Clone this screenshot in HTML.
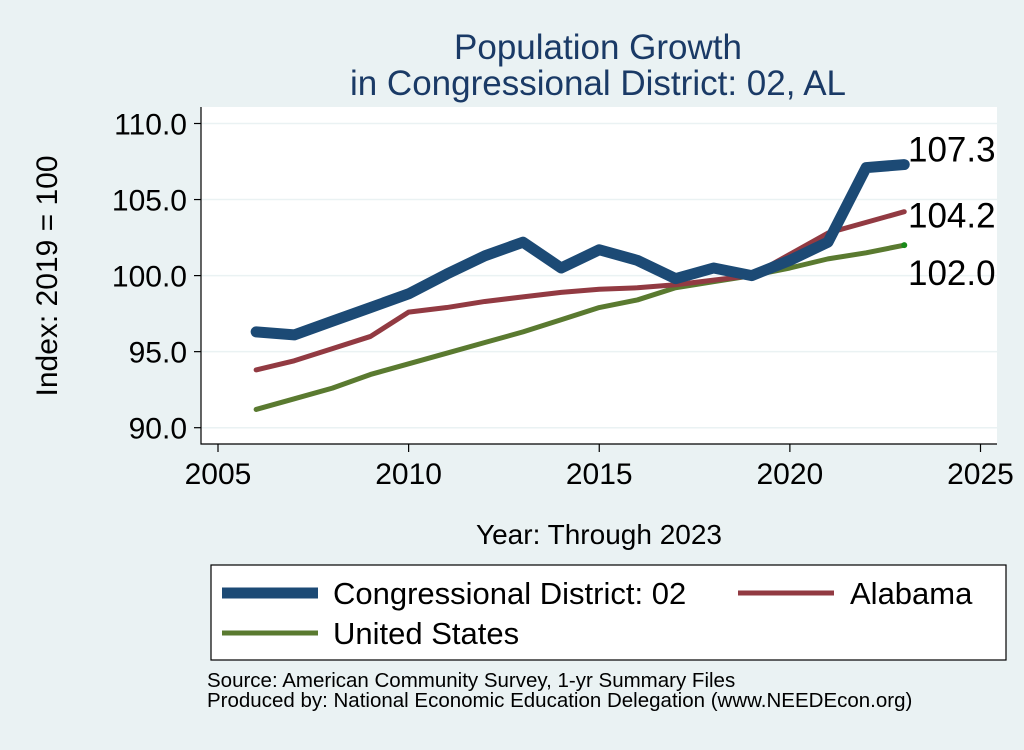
<!DOCTYPE html>
<html><head><meta charset="utf-8"><style>
body{margin:0;background:#eaf2f3;font-family:"Liberation Sans",sans-serif;}
</style></head><body>
<svg width="1024" height="745" xmlns="http://www.w3.org/2000/svg" font-family="Liberation Sans, sans-serif">
<rect width="1024" height="745" fill="#eaf2f3"/>
<text x="598" y="59" font-size="35" fill="#1a3a66" text-anchor="middle">Population Growth</text>
<text x="598" y="95" font-size="35" fill="#1a3a66" text-anchor="middle">in Congressional District: 02, AL</text>
<rect x="201" y="107" width="796" height="337" fill="#fff"/>
<g id="grid"></g>
<g id="axes"></g>
<g id="series"></g>
<text transform="translate(57,276) rotate(-90)" font-size="30" text-anchor="middle">Index: 2019 = 100</text>
<text x="599" y="544" font-size="28" text-anchor="middle">Year: Through 2023</text>
<g>
<rect x="211" y="565" width="795" height="95" fill="#fff" stroke="#000" stroke-width="1.2"/>
<line x1="222" y1="593" x2="318" y2="593" stroke="#1c4a75" stroke-width="11"/>
<text x="333" y="604" font-size="31">Congressional District: 02</text>
<line x1="738" y1="593" x2="834" y2="593" stroke="#923a42" stroke-width="5"/>
<text x="850" y="604" font-size="31">Alabama</text>
<line x1="222" y1="633" x2="318" y2="633" stroke="#5a7a30" stroke-width="5"/>
<text x="333" y="644" font-size="31">United States</text>
</g>
<text x="207" y="687" font-size="20.5">Source: American Community Survey, 1-yr Summary Files</text>
<text x="207" y="707" font-size="20.5">Produced by: National Economic Education Delegation (www.NEEDEcon.org)</text>
</svg>
<script>
const years=[2006,2007,2008,2009,2010,2011,2012,2013,2014,2015,2016,2017,2018,2019,2020,2021,2022,2023];
const district=[96.3,96.1,97.0,97.9,98.8,100.1,101.3,102.2,100.5,101.7,101.0,99.8,100.5,100.0,101.0,102.2,107.1,107.3];
const alabama=[93.8,94.4,95.2,96.0,97.6,97.9,98.3,98.6,98.9,99.1,99.2,99.4,99.7,100.0,101.4,102.8,103.5,104.2];
const us=[91.2,91.9,92.6,93.5,94.2,94.9,95.6,96.3,97.1,97.9,98.4,99.2,99.6,100.0,100.5,101.1,101.5,102.0];
const yTicks=[90,95,100,105,110];
const yTickLabels=["90.0","95.0","100.0","105.0","110.0"];
const xTicks=[2005,2010,2015,2020,2025];
const endLabels=["107.3","104.2","102.0"];
const NS="http://www.w3.org/2000/svg";
function xs(v){return 218+(v-2005)*(980.5-218)/20;}
function ys(v){return 427.7-(v-90)*(427.7-123.5)/20;}
function mk(tag,attrs,parent){const e=document.createElementNS(NS,tag);for(const k in attrs)e.setAttribute(k,attrs[k]);document.getElementById(parent).appendChild(e);return e;}
yTicks.forEach((t,i)=>{
 let g=mk('line',{x1:201,x2:997,y1:ys(t),y2:ys(t),stroke:'#eaf2f3','stroke-width':1.5},'grid');
 
 
 let tk=mk('line',{x1:194,x2:201,y1:ys(t),y2:ys(t),stroke:'#000','stroke-width':1.2},'axes');
 
 
 let tx=mk('text',{x:187,y:ys(t)+11,'font-size':30,'text-anchor':'end'},'axes');
 tx.textContent=yTickLabels[i];
 
 
});
xTicks.forEach(t=>{
 let tk=mk('line',{x1:xs(t),x2:xs(t),y1:444,y2:452,stroke:'#000','stroke-width':1.2},'axes');
 
 
 let tx=mk('text',{x:xs(t),y:484,'font-size':30,'text-anchor':'middle'},'axes');
 tx.textContent=t;
 
 
});
let ax=mk('path',{d:'M201,107 V444 H997',fill:'none',stroke:'#000','stroke-width':1.2},'axes');


function line(vals,color,w,name){
 const p=mk('polyline',{points:years.map((y,i)=>xs(y)+','+ys(vals[i])).join(' '),fill:'none',stroke:color,'stroke-width':w,'stroke-linejoin':'round','stroke-linecap':'round'},'series');
 
 
}
line(us,'#5a7a30',5,'line-united-states');
line(alabama,'#923a42',5,'line-alabama');
line(district,'#1c4a75',11,'line-district');
let dot=mk('circle',{cx:xs(2023),cy:ys(us[us.length-1]),r:3,fill:'#1a8a1a'},'series');


const lbY=[ys(district[17])-3,ys(alabama[17])+16,ys(us[17])+40];
endLabels.forEach((l,i)=>{
 let t=mk('text',{x:908,y:lbY[i],'font-size':35},'series');
 t.textContent=l;
 
 
});
</script>
</body></html>
